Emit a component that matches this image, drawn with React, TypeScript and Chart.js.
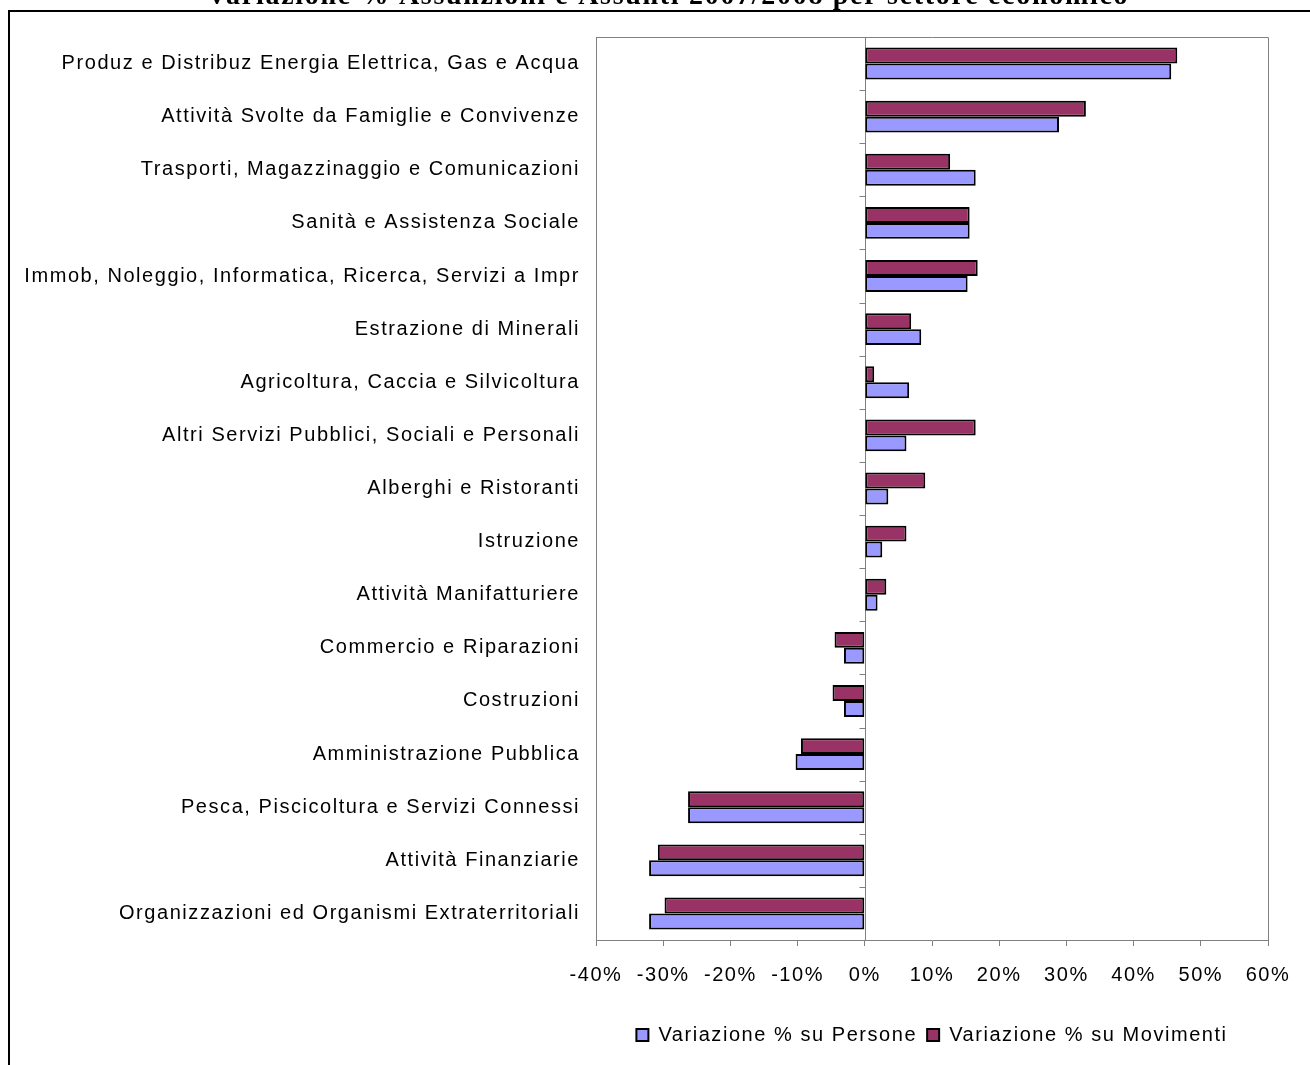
import React, { useEffect, useRef } from "react";
import { Chart, registerables } from "chart.js";

Chart.register(...registerables);

const TITLE = "Variazione % Assunzioni e Assunti 2007/2008 per settore economico";

const CATEGORIES = [
  "Produz e Distribuz Energia Elettrica, Gas e Acqua",
  "Attività Svolte da Famiglie e Convivenze",
  "Trasporti, Magazzinaggio e Comunicazioni",
  "Sanità e Assistenza Sociale",
  "Immob, Noleggio, Informatica, Ricerca, Servizi a Impr",
  "Estrazione di Minerali",
  "Agricoltura, Caccia e Silvicoltura",
  "Altri Servizi Pubblici, Sociali e Personali",
  "Alberghi e Ristoranti",
  "Istruzione",
  "Attività Manifatturiere",
  "Commercio e Riparazioni",
  "Costruzioni",
  "Amministrazione Pubblica",
  "Pesca, Piscicoltura e Servizi Connessi",
  "Attività Finanziarie",
  "Organizzazioni ed Organismi Extraterritoriali",
];

const PERSONE = [45.6, 28.9, 16.5, 15.6, 15.3, 8.4, 6.6, 6.2, 3.5, 2.6, 1.9, -3.1, -3.1, -10.3, -26.3, -32.1, -32.1];
const MOVIMENTI = [46.5, 32.9, 12.7, 15.6, 16.8, 6.9, 1.4, 16.5, 9.0, 6.2, 3.2, -4.5, -4.8, -9.5, -26.3, -30.8, -29.8];

const X_MIN = -40;
const X_MAX = 60;
const X_STEP = 10;

const SERIES_NAMES = ["Variazione % su Movimenti", "Variazione % su Persone"];
const COLORS = ["#993366", "#9999FF"];

const FONT_FAMILY = '"Liberation Sans", Arial, sans-serif';
const FONT_SIZE = 20;
const LETTER_SPACING = "1.55px";

const framePlugin = {
  id: "excelFrame",
  beforeUpdate(chart: any) {
    chart.ctx.letterSpacing = LETTER_SPACING;
  },
  beforeDraw(chart: any) {
    chart.ctx.letterSpacing = LETTER_SPACING;
  },
  afterLayout(chart: any) {
    const { left, right } = chart.chartArea;
    const lg = chart.legend;
    if (lg) {
      lg.left = left;
      lg.right = right;
      lg.width = right - left;
    }
  },
  beforeDatasetsDraw(chart: any) {
    const { ctx, chartArea, scales } = chart;
    const xs = scales.x;
    const ys = scales.y;
    const x0 = Math.round(xs.getPixelForValue(0)) + 0.5;
    ctx.save();
    ctx.strokeStyle = "#808080";
    ctx.lineWidth = 1;
    ctx.beginPath();
    ctx.moveTo(Math.round(chartArea.left) + 0.5, Math.round(chartArea.top) + 0.5);
    ctx.lineTo(Math.round(chartArea.right) + 0.5, Math.round(chartArea.top) + 0.5);
    ctx.lineTo(Math.round(chartArea.right) + 0.5, Math.round(chartArea.bottom) + 0.5);
    ctx.moveTo(x0, chartArea.top);
    ctx.lineTo(x0, chartArea.bottom);
    for (let i = 0; i <= CATEGORIES.length; i++) {
      const yy = Math.round(ys.getPixelForValue(i - 0.5)) + 0.5;
      ctx.moveTo(x0 - 6, yy);
      ctx.lineTo(x0, yy);
    }
    ctx.stroke();
    ctx.restore();
  },
  afterDraw(chart: any) {
    const { ctx } = chart;
    ctx.save();
    ctx.letterSpacing = "1.7px";
    ctx.font = 'bold 28px "Liberation Serif", "Times New Roman", serif';
    ctx.fillStyle = "#000";
    ctx.textAlign = "center";
    ctx.textBaseline = "alphabetic";
    ctx.fillText(TITLE, 668, 4);
    ctx.restore();
  },
};

export default function App() {
  const ref = useRef<HTMLCanvasElement | null>(null);

  useEffect(() => {
    if (!ref.current) return;
    const font = { family: FONT_FAMILY, size: FONT_SIZE };
    const chart = new Chart(ref.current, {
      type: "bar",
      data: {
        labels: CATEGORIES,
        datasets: [
          {
            label: SERIES_NAMES[0],
            data: MOVIMENTI,
            backgroundColor: COLORS[0],
            borderColor: "#000",
            borderWidth: 2,
            borderSkipped: false,
            categoryPercentage: 0.6,
            barPercentage: 1,
          },
          {
            label: SERIES_NAMES[1],
            data: PERSONE,
            backgroundColor: COLORS[1],
            borderColor: "#000",
            borderWidth: 2,
            borderSkipped: false,
            categoryPercentage: 0.6,
            barPercentage: 1,
          },
        ],
      },
      options: {
        indexAxis: "y",
        animation: false,
        responsive: false,
        maintainAspectRatio: false,
        devicePixelRatio: 1,
        layout: { padding: { top: 37, right: 42, bottom: 10, left: 0 } },
        scales: {
          x: {
            type: "linear",
            min: X_MIN,
            max: X_MAX,
            ticks: {
              stepSize: X_STEP,
              callback: (v: any) => v + "%",
              color: "#000",
              font,
              padding: 17,
              maxRotation: 0,
              autoSkip: false,
            },
            grid: {
              drawOnChartArea: false,
              drawTicks: true,
              tickLength: 6,
              color: "#808080",
            },
            border: { display: true, color: "#808080" },
            afterFit: (s: any) => {
              s.height = 75;
            },
          },
          y: {
            type: "category",
            ticks: { color: "#000", font, padding: 8, autoSkip: false },
            grid: { display: false },
            border: { display: true, color: "#808080" },
            afterFit: (s: any) => {
              s.width = 596;
            },
          },
        },
        plugins: {
          legend: {
            position: "bottom",
            labels: {
              boxWidth: 12,
              boxHeight: 12,
              color: "#000",
              font,
              padding: 10,
              sort: (a: any, b: any) => b.datasetIndex - a.datasetIndex,
            },
          },
          tooltip: { enabled: false },
          title: { display: false },
        },
      },
      plugins: [framePlugin],
    } as any);
    return () => chart.destroy();
  }, []);

  return (
    <div style={{ position: "fixed", left: 0, top: 0, width: 1310, height: 1065, overflow: "hidden", background: "#fff" }}>
      <div
        style={{
          position: "absolute",
          left: 8,
          top: 10,
          width: 1400,
          height: 1200,
          border: "2px solid #000",
          boxSizing: "border-box",
        }}
      />
      <canvas ref={ref} width={1310} height={1065} style={{ position: "absolute", left: 0, top: 0, width: 1310, height: 1065 }} />
    </div>
  );
}
